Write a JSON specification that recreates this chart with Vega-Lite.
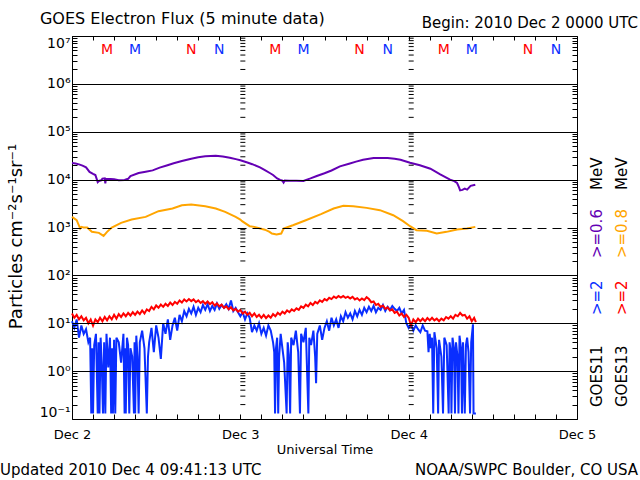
{
  "$schema": "https://vega.github.io/schema/vega-lite/v6.json",
  "width": 505,
  "height": 383,
  "autosize": {"type": "none"},
  "padding": {"left": 72, "top": 36, "right": 63, "bottom": 61},
  "config": {"font": "DejaVu Sans", "view": {"stroke": "black", "strokeWidth": 1}},
  "datasets": {
    "purple": [
      {"t":"2010-12-02T00:00Z","v":22200},{"t":"2010-12-02T00:30Z","v":21800},{"t":"2010-12-02T01:00Z","v":20800},{"t":"2010-12-02T01:30Z","v":19600},{"t":"2010-12-02T02:00Z","v":18000},{"t":"2010-12-02T02:30Z","v":14500},{"t":"2010-12-02T03:00Z","v":13200},{"t":"2010-12-02T03:20Z","v":12500},{"t":"2010-12-02T03:40Z","v":8900},{"t":"2010-12-02T03:50Z","v":9400},{"t":"2010-12-02T04:10Z","v":9700},{"t":"2010-12-02T04:20Z","v":10500},{"t":"2010-12-02T04:40Z","v":10600},{"t":"2010-12-02T04:45Z","v":8300},{"t":"2010-12-02T04:50Z","v":10400},{"t":"2010-12-02T05:30Z","v":10300},{"t":"2010-12-02T06:00Z","v":10200},{"t":"2010-12-02T06:40Z","v":9700},{"t":"2010-12-02T07:30Z","v":9800},{"t":"2010-12-02T08:00Z","v":10400},{"t":"2010-12-02T08:20Z","v":11900},{"t":"2010-12-02T09:30Z","v":13700},{"t":"2010-12-02T10:30Z","v":14600},{"t":"2010-12-02T11:30Z","v":15600},{"t":"2010-12-02T12:30Z","v":17800},{"t":"2010-12-02T13:30Z","v":19800},{"t":"2010-12-02T14:30Z","v":22000},{"t":"2010-12-02T15:40Z","v":24500},{"t":"2010-12-02T17:00Z","v":27300},{"t":"2010-12-02T18:00Z","v":29200},{"t":"2010-12-02T19:00Z","v":30700},{"t":"2010-12-02T20:30Z","v":31700},{"t":"2010-12-02T21:30Z","v":30300},{"t":"2010-12-02T22:30Z","v":28500},{"t":"2010-12-02T23:30Z","v":26500},
      {"t":"2010-12-03T00:00Z","v":25300},{"t":"2010-12-03T01:00Z","v":22800},{"t":"2010-12-03T01:42Z","v":21000},{"t":"2010-12-03T02:48Z","v":18000},{"t":"2010-12-03T03:30Z","v":15800},{"t":"2010-12-03T04:12Z","v":13750},{"t":"2010-12-03T04:40Z","v":12500},{"t":"2010-12-03T05:15Z","v":10600},{"t":"2010-12-03T05:40Z","v":9900},{"t":"2010-12-03T06:00Z","v":9500},{"t":"2010-12-03T06:10Z","v":8700},{"t":"2010-12-03T06:20Z","v":9600},{"t":"2010-12-03T07:00Z","v":9500},{"t":"2010-12-03T08:00Z","v":9500},{"t":"2010-12-03T09:00Z","v":9400},{"t":"2010-12-03T09:30Z","v":10000},{"t":"2010-12-03T10:00Z","v":10600},{"t":"2010-12-03T10:54Z","v":11900},{"t":"2010-12-03T12:00Z","v":13600},{"t":"2010-12-03T13:00Z","v":15500},{"t":"2010-12-03T14:12Z","v":18950},{"t":"2010-12-03T15:30Z","v":21500},{"t":"2010-12-03T16:30Z","v":23800},{"t":"2010-12-03T17:30Z","v":26000},{"t":"2010-12-03T19:00Z","v":28300},{"t":"2010-12-03T21:00Z","v":28300},{"t":"2010-12-03T22:00Z","v":27400},{"t":"2010-12-03T22:50Z","v":26100},
      {"t":"2010-12-04T00:12Z","v":22600},{"t":"2010-12-04T01:36Z","v":19900},{"t":"2010-12-04T03:06Z","v":16900},{"t":"2010-12-04T04:30Z","v":12900},{"t":"2010-12-04T05:54Z","v":10000},{"t":"2010-12-04T06:30Z","v":9300},{"t":"2010-12-04T06:54Z","v":8500},{"t":"2010-12-04T07:10Z","v":7000},{"t":"2010-12-04T07:20Z","v":5980},{"t":"2010-12-04T07:40Z","v":6100},{"t":"2010-12-04T08:00Z","v":6500},{"t":"2010-12-04T08:20Z","v":6180},{"t":"2010-12-04T08:50Z","v":7400},{"t":"2010-12-04T09:30Z","v":7850}
    ],
    "orange": [
      {"t":"2010-12-02T00:00Z","v":1667},{"t":"2010-12-02T00:40Z","v":1420},{"t":"2010-12-02T01:10Z","v":952},{"t":"2010-12-02T01:20Z","v":1030},{"t":"2010-12-02T01:40Z","v":1000},{"t":"2010-12-02T02:10Z","v":1000},{"t":"2010-12-02T02:50Z","v":811},{"t":"2010-12-02T03:50Z","v":773},{"t":"2010-12-02T04:30Z","v":669},{"t":"2010-12-02T05:00Z","v":811},{"t":"2010-12-02T05:40Z","v":1000},{"t":"2010-12-02T07:00Z","v":1250},{"t":"2010-12-02T08:30Z","v":1467},{"t":"2010-12-02T10:30Z","v":1667},{"t":"2010-12-02T12:20Z","v":2190},{"t":"2010-12-02T14:20Z","v":2490},{"t":"2010-12-02T15:40Z","v":2920},{"t":"2010-12-02T17:00Z","v":3020},{"t":"2010-12-02T19:00Z","v":2785},{"t":"2010-12-02T20:30Z","v":2490},{"t":"2010-12-02T21:50Z","v":2120},{"t":"2010-12-02T23:20Z","v":1667},
      {"t":"2010-12-03T00:00Z","v":1467},{"t":"2010-12-03T00:15Z","v":1355},{"t":"2010-12-03T01:20Z","v":1065},{"t":"2010-12-03T02:00Z","v":1030},{"t":"2010-12-03T02:50Z","v":952},{"t":"2010-12-03T03:30Z","v":900},{"t":"2010-12-03T04:10Z","v":811},{"t":"2010-12-03T04:30Z","v":748},{"t":"2010-12-03T05:10Z","v":713},{"t":"2010-12-03T05:50Z","v":748},{"t":"2010-12-03T06:10Z","v":952},{"t":"2010-12-03T07:30Z","v":1117},{"t":"2010-12-03T09:20Z","v":1420},{"t":"2010-12-03T11:30Z","v":1900},{"t":"2010-12-03T13:18Z","v":2490},{"t":"2010-12-03T14:42Z","v":2830},{"t":"2010-12-03T16:06Z","v":2785},{"t":"2010-12-03T18:00Z","v":2570},{"t":"2010-12-03T19:54Z","v":2300},{"t":"2010-12-03T21:48Z","v":1805},{"t":"2010-12-03T23:12Z","v":1355},
      {"t":"2010-12-04T00:12Z","v":1065},{"t":"2010-12-04T01:06Z","v":878},{"t":"2010-12-04T02:36Z","v":857},{"t":"2010-12-04T04:00Z","v":748},{"t":"2010-12-04T05:24Z","v":811},{"t":"2010-12-04T06:54Z","v":907},{"t":"2010-12-04T08:18Z","v":952},{"t":"2010-12-04T09:30Z","v":1030}
    ],
    "blue": [
      {"t":"2010-12-02T00:00Z","v":11},{"t":"2010-12-02T00:20Z","v":8},{"t":"2010-12-02T00:40Z","v":12},{"t":"2010-12-02T01:00Z","v":5},{"t":"2010-12-02T01:20Z","v":9},{"t":"2010-12-02T01:40Z","v":6},{"t":"2010-12-02T02:00Z","v":7.5},{"t":"2010-12-02T02:20Z","v":4},{"t":"2010-12-02T02:35Z","v":5},{"t":"2010-12-02T02:45Z","v":0.13},{"t":"2010-12-02T02:52Z","v":3},{"t":"2010-12-02T03:00Z","v":0.13},{"t":"2010-12-02T03:10Z","v":3.5},{"t":"2010-12-02T03:25Z","v":6},{"t":"2010-12-02T03:40Z","v":0.13},{"t":"2010-12-02T03:47Z","v":4},{"t":"2010-12-02T03:55Z","v":0.13},{"t":"2010-12-02T04:05Z","v":5},{"t":"2010-12-02T04:15Z","v":1.3},{"t":"2010-12-02T04:25Z","v":0.13},{"t":"2010-12-02T04:35Z","v":4},{"t":"2010-12-02T04:45Z","v":0.13},{"t":"2010-12-02T04:55Z","v":6},{"t":"2010-12-02T05:10Z","v":1.2},{"t":"2010-12-02T05:25Z","v":5},{"t":"2010-12-02T05:35Z","v":0.13},{"t":"2010-12-02T05:42Z","v":3},{"t":"2010-12-02T05:50Z","v":0.13},{"t":"2010-12-02T06:00Z","v":4.5},{"t":"2010-12-02T06:10Z","v":0.13},{"t":"2010-12-02T06:20Z","v":5},{"t":"2010-12-02T06:40Z","v":4},{"t":"2010-12-02T07:00Z","v":1.5},{"t":"2010-12-02T07:20Z","v":6},{"t":"2010-12-02T07:30Z","v":0.13},{"t":"2010-12-02T07:35Z","v":3},{"t":"2010-12-02T07:40Z","v":0.13},{"t":"2010-12-02T07:50Z","v":5},{"t":"2010-12-02T08:00Z","v":3.5},{"t":"2010-12-02T08:10Z","v":0.13},{"t":"2010-12-02T08:20Z","v":3},{"t":"2010-12-02T08:35Z","v":2},{"t":"2010-12-02T08:50Z","v":0.13},{"t":"2010-12-02T08:55Z","v":4},{"t":"2010-12-02T09:00Z","v":0.13},{"t":"2010-12-02T09:10Z","v":5.5},{"t":"2010-12-02T09:20Z","v":2},{"t":"2010-12-02T09:30Z","v":0.13},{"t":"2010-12-02T09:40Z","v":4},{"t":"2010-12-02T10:00Z","v":7},{"t":"2010-12-02T10:20Z","v":3},{"t":"2010-12-02T10:40Z","v":0.13},{"t":"2010-12-02T10:50Z","v":2},{"t":"2010-12-02T11:00Z","v":4},{"t":"2010-12-02T11:20Z","v":8},{"t":"2010-12-02T11:40Z","v":2.5},{"t":"2010-12-02T12:00Z","v":9},{"t":"2010-12-02T12:20Z","v":5},{"t":"2010-12-02T12:40Z","v":1.8},{"t":"2010-12-02T13:00Z","v":10},{"t":"2010-12-02T13:20Z","v":6},{"t":"2010-12-02T13:40Z","v":12},{"t":"2010-12-02T14:00Z","v":4.5},{"t":"2010-12-02T14:20Z","v":9},{"t":"2010-12-02T14:40Z","v":13},{"t":"2010-12-02T15:00Z","v":7},{"t":"2010-12-02T15:20Z","v":15},{"t":"2010-12-02T15:40Z","v":11},{"t":"2010-12-02T16:00Z","v":18},{"t":"2010-12-02T16:20Z","v":14},{"t":"2010-12-02T16:40Z","v":20},{"t":"2010-12-02T17:00Z","v":16},{"t":"2010-12-02T17:20Z","v":22},{"t":"2010-12-02T17:40Z","v":15},{"t":"2010-12-02T18:00Z","v":21},{"t":"2010-12-02T18:20Z","v":17},{"t":"2010-12-02T18:40Z","v":24},{"t":"2010-12-02T19:00Z","v":19},{"t":"2010-12-02T19:20Z","v":25},{"t":"2010-12-02T19:40Z","v":18},{"t":"2010-12-02T20:00Z","v":23},{"t":"2010-12-02T20:20Z","v":19},{"t":"2010-12-02T20:40Z","v":26},{"t":"2010-12-02T21:00Z","v":20},{"t":"2010-12-02T21:20Z","v":24},{"t":"2010-12-02T21:40Z","v":21},{"t":"2010-12-02T22:00Z","v":25},{"t":"2010-12-02T22:20Z","v":20},{"t":"2010-12-02T22:40Z","v":30},{"t":"2010-12-02T23:00Z","v":18},{"t":"2010-12-02T23:20Z","v":21},{"t":"2010-12-02T23:40Z","v":17},
      {"t":"2010-12-03T00:00Z","v":14},{"t":"2010-12-03T00:20Z","v":17},{"t":"2010-12-03T00:40Z","v":12},{"t":"2010-12-03T01:00Z","v":16},{"t":"2010-12-03T01:20Z","v":13},{"t":"2010-12-03T01:40Z","v":6.5},{"t":"2010-12-03T02:00Z","v":9},{"t":"2010-12-03T02:20Z","v":7},{"t":"2010-12-03T02:40Z","v":10},{"t":"2010-12-03T03:00Z","v":6},{"t":"2010-12-03T03:20Z","v":8},{"t":"2010-12-03T03:40Z","v":5.5},{"t":"2010-12-03T04:00Z","v":9},{"t":"2010-12-03T04:20Z","v":7},{"t":"2010-12-03T04:40Z","v":4},{"t":"2010-12-03T04:50Z","v":2.5},{"t":"2010-12-03T04:57Z","v":0.13},{"t":"2010-12-03T05:05Z","v":3},{"t":"2010-12-03T05:15Z","v":5},{"t":"2010-12-03T05:24Z","v":0.13},{"t":"2010-12-03T05:32Z","v":2},{"t":"2010-12-03T05:45Z","v":6},{"t":"2010-12-03T06:00Z","v":3},{"t":"2010-12-03T06:15Z","v":1.5},{"t":"2010-12-03T06:36Z","v":0.13},{"t":"2010-12-03T06:45Z","v":4},{"t":"2010-12-03T06:55Z","v":2.2},{"t":"2010-12-03T07:06Z","v":0.13},{"t":"2010-12-03T07:15Z","v":5},{"t":"2010-12-03T07:35Z","v":3.5},{"t":"2010-12-03T07:55Z","v":7},{"t":"2010-12-03T08:15Z","v":2.5},{"t":"2010-12-03T08:30Z","v":0.13},{"t":"2010-12-03T08:40Z","v":6},{"t":"2010-12-03T09:00Z","v":4},{"t":"2010-12-03T09:20Z","v":8},{"t":"2010-12-03T09:42Z","v":0.13},{"t":"2010-12-03T09:50Z","v":5},{"t":"2010-12-03T10:05Z","v":3.5},{"t":"2010-12-03T10:25Z","v":7},{"t":"2010-12-03T10:40Z","v":2},{"t":"2010-12-03T10:48Z","v":0.56},{"t":"2010-12-03T10:58Z","v":6},{"t":"2010-12-03T11:20Z","v":9},{"t":"2010-12-03T11:40Z","v":4.5},{"t":"2010-12-03T12:00Z","v":8},{"t":"2010-12-03T12:20Z","v":11},{"t":"2010-12-03T12:40Z","v":7},{"t":"2010-12-03T13:00Z","v":13},{"t":"2010-12-03T13:20Z","v":9},{"t":"2010-12-03T13:40Z","v":12},{"t":"2010-12-03T14:00Z","v":8},{"t":"2010-12-03T14:20Z","v":14},{"t":"2010-12-03T14:40Z","v":11},{"t":"2010-12-03T15:00Z","v":17},{"t":"2010-12-03T15:20Z","v":13},{"t":"2010-12-03T15:40Z","v":16},{"t":"2010-12-03T16:00Z","v":12},{"t":"2010-12-03T16:20Z","v":18},{"t":"2010-12-03T16:40Z","v":14},{"t":"2010-12-03T17:00Z","v":19},{"t":"2010-12-03T17:20Z","v":15},{"t":"2010-12-03T17:40Z","v":21},{"t":"2010-12-03T18:00Z","v":17},{"t":"2010-12-03T18:20Z","v":22},{"t":"2010-12-03T18:40Z","v":18},{"t":"2010-12-03T19:00Z","v":23},{"t":"2010-12-03T19:20Z","v":17},{"t":"2010-12-03T19:40Z","v":21},{"t":"2010-12-03T20:00Z","v":19},{"t":"2010-12-03T20:20Z","v":24},{"t":"2010-12-03T20:40Z","v":18},{"t":"2010-12-03T21:00Z","v":22},{"t":"2010-12-03T21:20Z","v":19},{"t":"2010-12-03T21:40Z","v":23},{"t":"2010-12-03T22:00Z","v":20},{"t":"2010-12-03T22:20Z","v":18},{"t":"2010-12-03T22:40Z","v":21},{"t":"2010-12-03T23:00Z","v":16},{"t":"2010-12-03T23:20Z","v":19},{"t":"2010-12-03T23:40Z","v":10},
      {"t":"2010-12-04T00:00Z","v":8},{"t":"2010-12-04T00:20Z","v":9.5},{"t":"2010-12-04T00:40Z","v":7},{"t":"2010-12-04T01:00Z","v":9},{"t":"2010-12-04T01:20Z","v":7.5},{"t":"2010-12-04T01:40Z","v":6.5},{"t":"2010-12-04T02:00Z","v":9},{"t":"2010-12-04T02:20Z","v":7},{"t":"2010-12-04T02:40Z","v":6.8},{"t":"2010-12-04T02:50Z","v":2.5},{"t":"2010-12-04T03:00Z","v":6},{"t":"2010-12-04T03:10Z","v":3},{"t":"2010-12-04T03:20Z","v":5},{"t":"2010-12-04T03:30Z","v":0.13},{"t":"2010-12-04T03:40Z","v":6.5},{"t":"2010-12-04T04:00Z","v":3},{"t":"2010-12-04T04:12Z","v":0.13},{"t":"2010-12-04T04:20Z","v":4.5},{"t":"2010-12-04T04:40Z","v":2},{"t":"2010-12-04T04:54Z","v":0.13},{"t":"2010-12-04T05:05Z","v":5},{"t":"2010-12-04T05:25Z","v":3.5},{"t":"2010-12-04T05:42Z","v":0.13},{"t":"2010-12-04T05:50Z","v":4},{"t":"2010-12-04T06:00Z","v":2.5},{"t":"2010-12-04T06:06Z","v":0.13},{"t":"2010-12-04T06:15Z","v":5},{"t":"2010-12-04T06:28Z","v":3},{"t":"2010-12-04T06:36Z","v":0.13},{"t":"2010-12-04T06:45Z","v":4},{"t":"2010-12-04T06:58Z","v":2},{"t":"2010-12-04T07:06Z","v":0.13},{"t":"2010-12-04T07:15Z","v":5.5},{"t":"2010-12-04T07:28Z","v":3},{"t":"2010-12-04T07:36Z","v":0.13},{"t":"2010-12-04T07:45Z","v":4},{"t":"2010-12-04T08:00Z","v":0.13},{"t":"2010-12-04T08:10Z","v":3.5},{"t":"2010-12-04T08:20Z","v":5},{"t":"2010-12-04T08:32Z","v":2.5},{"t":"2010-12-04T08:45Z","v":0.13},{"t":"2010-12-04T08:55Z","v":4},{"t":"2010-12-04T09:10Z","v":9.5},{"t":"2010-12-04T09:15Z","v":0.13},{"t":"2010-12-04T09:35Z","v":0.13}
    ],
    "red": [
      {"t":"2010-12-02T00:00Z","v":16},{"t":"2010-12-02T00:20Z","v":13},{"t":"2010-12-02T00:40Z","v":15},{"t":"2010-12-02T01:00Z","v":12},{"t":"2010-12-02T01:20Z","v":14},{"t":"2010-12-02T01:40Z","v":11.5},{"t":"2010-12-02T02:00Z","v":13},{"t":"2010-12-02T02:20Z","v":10},{"t":"2010-12-02T02:40Z","v":12},{"t":"2010-12-02T03:00Z","v":8.9},{"t":"2010-12-02T03:20Z","v":12},{"t":"2010-12-02T03:40Z","v":10.5},{"t":"2010-12-02T04:00Z","v":13},{"t":"2010-12-02T04:20Z","v":11},{"t":"2010-12-02T04:40Z","v":13.5},{"t":"2010-12-02T05:00Z","v":11.5},{"t":"2010-12-02T05:20Z","v":14},{"t":"2010-12-02T05:40Z","v":12},{"t":"2010-12-02T06:00Z","v":15},{"t":"2010-12-02T06:20Z","v":12.5},{"t":"2010-12-02T06:40Z","v":15.5},{"t":"2010-12-02T07:00Z","v":13.5},{"t":"2010-12-02T07:20Z","v":16},{"t":"2010-12-02T07:40Z","v":14},{"t":"2010-12-02T08:00Z","v":16.5},{"t":"2010-12-02T08:20Z","v":14.5},{"t":"2010-12-02T08:40Z","v":17},{"t":"2010-12-02T09:00Z","v":15},{"t":"2010-12-02T09:20Z","v":17.5},{"t":"2010-12-02T09:40Z","v":15.5},{"t":"2010-12-02T10:00Z","v":18.5},{"t":"2010-12-02T10:20Z","v":16},{"t":"2010-12-02T10:40Z","v":19.5},{"t":"2010-12-02T11:00Z","v":18},{"t":"2010-12-02T11:20Z","v":22},{"t":"2010-12-02T11:40Z","v":19.5},{"t":"2010-12-02T12:00Z","v":23.5},{"t":"2010-12-02T12:20Z","v":21},{"t":"2010-12-02T12:40Z","v":24.5},{"t":"2010-12-02T13:00Z","v":22},{"t":"2010-12-02T13:20Z","v":25.5},{"t":"2010-12-02T13:40Z","v":23},{"t":"2010-12-02T14:00Z","v":27},{"t":"2010-12-02T14:20Z","v":24},{"t":"2010-12-02T14:40Z","v":28},{"t":"2010-12-02T15:00Z","v":25.5},{"t":"2010-12-02T15:20Z","v":30},{"t":"2010-12-02T15:40Z","v":27},{"t":"2010-12-02T16:00Z","v":31.5},{"t":"2010-12-02T16:20Z","v":28.5},{"t":"2010-12-02T16:40Z","v":32},{"t":"2010-12-02T17:00Z","v":29},{"t":"2010-12-02T17:20Z","v":31.5},{"t":"2010-12-02T17:40Z","v":27.5},{"t":"2010-12-02T18:00Z","v":30},{"t":"2010-12-02T18:20Z","v":26.5},{"t":"2010-12-02T18:40Z","v":29},{"t":"2010-12-02T19:00Z","v":25.5},{"t":"2010-12-02T19:20Z","v":28.5},{"t":"2010-12-02T19:40Z","v":25},{"t":"2010-12-02T20:00Z","v":27.5},{"t":"2010-12-02T20:20Z","v":23.5},{"t":"2010-12-02T20:40Z","v":26},{"t":"2010-12-02T21:00Z","v":22.5},{"t":"2010-12-02T21:20Z","v":24.5},{"t":"2010-12-02T21:40Z","v":21},{"t":"2010-12-02T22:00Z","v":22.5},{"t":"2010-12-02T22:20Z","v":19.5},{"t":"2010-12-02T22:40Z","v":21.5},{"t":"2010-12-02T23:00Z","v":18.5},{"t":"2010-12-02T23:20Z","v":20},{"t":"2010-12-02T23:40Z","v":17.5},
      {"t":"2010-12-03T00:00Z","v":19},{"t":"2010-12-03T00:20Z","v":16},{"t":"2010-12-03T00:40Z","v":17.5},{"t":"2010-12-03T01:00Z","v":15},{"t":"2010-12-03T01:20Z","v":16.5},{"t":"2010-12-03T01:40Z","v":14},{"t":"2010-12-03T02:00Z","v":16},{"t":"2010-12-03T02:20Z","v":13.5},{"t":"2010-12-03T02:40Z","v":15},{"t":"2010-12-03T03:00Z","v":13},{"t":"2010-12-03T03:20Z","v":15},{"t":"2010-12-03T03:40Z","v":12.8},{"t":"2010-12-03T04:00Z","v":14.5},{"t":"2010-12-03T04:20Z","v":13},{"t":"2010-12-03T04:40Z","v":15.5},{"t":"2010-12-03T05:00Z","v":14},{"t":"2010-12-03T05:20Z","v":16.5},{"t":"2010-12-03T05:40Z","v":15},{"t":"2010-12-03T06:00Z","v":17.5},{"t":"2010-12-03T06:20Z","v":16},{"t":"2010-12-03T06:40Z","v":18.5},{"t":"2010-12-03T07:00Z","v":17},{"t":"2010-12-03T07:20Z","v":19.5},{"t":"2010-12-03T07:40Z","v":18},{"t":"2010-12-03T08:00Z","v":20.5},{"t":"2010-12-03T08:20Z","v":19},{"t":"2010-12-03T08:40Z","v":22.5},{"t":"2010-12-03T09:00Z","v":21},{"t":"2010-12-03T09:20Z","v":24.5},{"t":"2010-12-03T09:40Z","v":22.5},{"t":"2010-12-03T10:00Z","v":26.5},{"t":"2010-12-03T10:20Z","v":24},{"t":"2010-12-03T10:40Z","v":28},{"t":"2010-12-03T11:00Z","v":26},{"t":"2010-12-03T11:20Z","v":30},{"t":"2010-12-03T11:40Z","v":28},{"t":"2010-12-03T12:00Z","v":32},{"t":"2010-12-03T12:20Z","v":30},{"t":"2010-12-03T12:40Z","v":34},{"t":"2010-12-03T13:00Z","v":32},{"t":"2010-12-03T13:20Z","v":36},{"t":"2010-12-03T13:40Z","v":33.5},{"t":"2010-12-03T14:00Z","v":37},{"t":"2010-12-03T14:20Z","v":34.5},{"t":"2010-12-03T14:40Z","v":37},{"t":"2010-12-03T15:00Z","v":34},{"t":"2010-12-03T15:20Z","v":36},{"t":"2010-12-03T15:40Z","v":33},{"t":"2010-12-03T16:00Z","v":35.5},{"t":"2010-12-03T16:20Z","v":31.5},{"t":"2010-12-03T16:40Z","v":33.5},{"t":"2010-12-03T17:00Z","v":30},{"t":"2010-12-03T17:20Z","v":33},{"t":"2010-12-03T17:40Z","v":30.5},{"t":"2010-12-03T18:00Z","v":35},{"t":"2010-12-03T18:20Z","v":32},{"t":"2010-12-03T18:40Z","v":27.5},{"t":"2010-12-03T19:00Z","v":28.5},{"t":"2010-12-03T19:20Z","v":24},{"t":"2010-12-03T19:40Z","v":25.5},{"t":"2010-12-03T20:00Z","v":22},{"t":"2010-12-03T20:20Z","v":23.5},{"t":"2010-12-03T20:40Z","v":20},{"t":"2010-12-03T21:00Z","v":21.5},{"t":"2010-12-03T21:20Z","v":18.5},{"t":"2010-12-03T21:40Z","v":19.5},{"t":"2010-12-03T22:00Z","v":16.5},{"t":"2010-12-03T22:20Z","v":17.5},{"t":"2010-12-03T22:40Z","v":14.5},{"t":"2010-12-03T23:00Z","v":16},{"t":"2010-12-03T23:20Z","v":13.5},{"t":"2010-12-03T23:40Z","v":15},
      {"t":"2010-12-04T00:00Z","v":13},{"t":"2010-12-04T00:20Z","v":9},{"t":"2010-12-04T00:40Z","v":12},{"t":"2010-12-04T01:00Z","v":10.5},{"t":"2010-12-04T01:20Z","v":12.5},{"t":"2010-12-04T01:40Z","v":11},{"t":"2010-12-04T02:00Z","v":12.5},{"t":"2010-12-04T02:20Z","v":11},{"t":"2010-12-04T02:40Z","v":12.8},{"t":"2010-12-04T03:00Z","v":11.5},{"t":"2010-12-04T03:20Z","v":13},{"t":"2010-12-04T03:40Z","v":11.5},{"t":"2010-12-04T04:00Z","v":12.5},{"t":"2010-12-04T04:20Z","v":11},{"t":"2010-12-04T04:40Z","v":12.5},{"t":"2010-12-04T05:00Z","v":11.5},{"t":"2010-12-04T05:20Z","v":13.5},{"t":"2010-12-04T05:40Z","v":12.5},{"t":"2010-12-04T06:00Z","v":14},{"t":"2010-12-04T06:20Z","v":12.5},{"t":"2010-12-04T06:40Z","v":15},{"t":"2010-12-04T07:00Z","v":14},{"t":"2010-12-04T07:20Z","v":16.5},{"t":"2010-12-04T07:40Z","v":14.5},{"t":"2010-12-04T08:00Z","v":15},{"t":"2010-12-04T08:20Z","v":12.5},{"t":"2010-12-04T08:40Z","v":14},{"t":"2010-12-04T09:00Z","v":11},{"t":"2010-12-04T09:20Z","v":13},{"t":"2010-12-04T09:35Z","v":10.5}
    ],
    "minor": [
      {"v":0.2},{"v":0.3},{"v":0.4},{"v":0.5},{"v":0.6},{"v":0.7},{"v":0.8},{"v":0.9},
      {"v":2},{"v":3},{"v":4},{"v":5},{"v":6},{"v":7},{"v":8},{"v":9},
      {"v":20},{"v":30},{"v":40},{"v":50},{"v":60},{"v":70},{"v":80},{"v":90},
      {"v":200},{"v":300},{"v":400},{"v":500},{"v":600},{"v":700},{"v":800},{"v":900},
      {"v":2000},{"v":3000},{"v":4000},{"v":5000},{"v":6000},{"v":7000},{"v":8000},{"v":9000},
      {"v":20000},{"v":30000},{"v":40000},{"v":50000},{"v":60000},{"v":70000},{"v":80000},{"v":90000},
      {"v":200000},{"v":300000},{"v":400000},{"v":500000},{"v":600000},{"v":700000},{"v":800000},{"v":900000},
      {"v":2000000},{"v":3000000},{"v":4000000},{"v":5000000},{"v":6000000},{"v":7000000},{"v":8000000},{"v":9000000}
    ],
    "passes": [
      {"t":"2010-12-02T05:00Z","text":"M","grp":"r"},{"t":"2010-12-02T09:00Z","text":"M","grp":"b"},{"t":"2010-12-02T17:00Z","text":"N","grp":"r"},{"t":"2010-12-02T21:00Z","text":"N","grp":"b"},
      {"t":"2010-12-03T05:00Z","text":"M","grp":"r"},{"t":"2010-12-03T09:00Z","text":"M","grp":"b"},{"t":"2010-12-03T17:00Z","text":"N","grp":"r"},{"t":"2010-12-03T21:00Z","text":"N","grp":"b"},
      {"t":"2010-12-04T05:00Z","text":"M","grp":"r"},{"t":"2010-12-04T09:00Z","text":"M","grp":"b"},{"t":"2010-12-04T17:00Z","text":"N","grp":"r"},{"t":"2010-12-04T21:00Z","text":"N","grp":"b"}
    ],
    "keys": [
      {"t":"2010-12-05T02:51Z","v":230,"text":">=0.6","grp":"p"},
      {"t":"2010-12-05T02:51Z","v":6060,"text":"MeV","grp":"k"},
      {"t":"2010-12-05T02:51Z","v":14.8,"text":">=2","grp":"b"},
      {"t":"2010-12-05T02:51Z","v":0.178,"text":"GOES11","grp":"k"},
      {"t":"2010-12-05T06:25Z","v":230,"text":">=0.8","grp":"o"},
      {"t":"2010-12-05T06:25Z","v":6060,"text":"MeV","grp":"k"},
      {"t":"2010-12-05T06:25Z","v":14.8,"text":">=2","grp":"r"},
      {"t":"2010-12-05T06:25Z","v":0.178,"text":"GOES13","grp":"k"}
    ],
    "notes": [
      {"t":"2010-12-01T19:26Z","v":17800000,"text":"GOES Electron Flux (5 minute data)","side":"t"},
      {"t":"2010-12-05T08:42Z","v":14700000,"text":"Begin: 2010 Dec 2 0000 UTC","side":"r"},
      {"t":"2010-12-01T13:44Z","v":0.00677,"text":"Updated 2010 Dec  4 09:41:13 UTC","side":"l"},
      {"t":"2010-12-05T08:42Z","v":0.00677,"text":"NOAA/SWPC Boulder, CO USA","side":"r"}
    ]
  },
  "resolve": {"axis": {"x": "independent", "y": "independent"}},
  "layer": [
    {
      "data": {"name": "purple"},
      "mark": {"type": "line", "color": "#6400B4", "strokeWidth": 2},
      "encoding": {
        "x": {"field": "t", "type": "temporal",
          "scale": {"type": "utc", "domain": [{"year":2010,"month":12,"date":2,"utc":true},{"year":2010,"month":12,"date":5,"utc":true}], "nice": false},
          "axis": {"orient": "bottom",
            "values": [{"year":2010,"month":12,"date":2,"hours":0,"utc":true},{"year":2010,"month":12,"date":2,"hours":3,"utc":true},{"year":2010,"month":12,"date":2,"hours":6,"utc":true},{"year":2010,"month":12,"date":2,"hours":9,"utc":true},{"year":2010,"month":12,"date":2,"hours":12,"utc":true},{"year":2010,"month":12,"date":2,"hours":15,"utc":true},{"year":2010,"month":12,"date":2,"hours":18,"utc":true},{"year":2010,"month":12,"date":2,"hours":21,"utc":true},{"year":2010,"month":12,"date":3,"hours":0,"utc":true},{"year":2010,"month":12,"date":3,"hours":3,"utc":true},{"year":2010,"month":12,"date":3,"hours":6,"utc":true},{"year":2010,"month":12,"date":3,"hours":9,"utc":true},{"year":2010,"month":12,"date":3,"hours":12,"utc":true},{"year":2010,"month":12,"date":3,"hours":15,"utc":true},{"year":2010,"month":12,"date":3,"hours":18,"utc":true},{"year":2010,"month":12,"date":3,"hours":21,"utc":true},{"year":2010,"month":12,"date":4,"hours":0,"utc":true},{"year":2010,"month":12,"date":4,"hours":3,"utc":true},{"year":2010,"month":12,"date":4,"hours":6,"utc":true},{"year":2010,"month":12,"date":4,"hours":9,"utc":true},{"year":2010,"month":12,"date":4,"hours":12,"utc":true},{"year":2010,"month":12,"date":4,"hours":15,"utc":true},{"year":2010,"month":12,"date":4,"hours":18,"utc":true},{"year":2010,"month":12,"date":4,"hours":21,"utc":true},{"year":2010,"month":12,"date":5,"hours":0,"utc":true}],
            "labelExpr": "datum.value % 86400000 == 0 ? 'Dec ' + (2 + round((datum.value - 1291248000000) / 86400000)) : ''",
            "labelFont": "DejaVu Sans", "labelFontSize": 13, "labelColor": "black", "labelPadding": 14, "labelFlush": false,
            "tickSize": -5, "tickColor": "black", "tickWidth": 1, "domain": false, "grid": false,
            "title": "Universal Time", "titleFont": "DejaVu Sans", "titleFontSize": 13, "titleFontWeight": "normal", "titleColor": "black", "titlePadding": 2, "zindex": 1}},
        "y": {"field": "v", "type": "quantitative",
          "scale": {"type": "log", "domain": [0.1, 10000000], "nice": false},
          "axis": {"orient": "left",
            "values": [0.1,0.2,0.3,0.4,0.5,0.6,0.7,0.8,0.9,1,2,3,4,5,6,7,8,9,10,20,30,40,50,60,70,80,90,100,200,300,400,500,600,700,800,900,1000,2000,3000,4000,5000,6000,7000,8000,9000,10000,20000,30000,40000,50000,60000,70000,80000,90000,100000,200000,300000,400000,500000,600000,700000,800000,900000,1000000,2000000,3000000,4000000,5000000,6000000,7000000,8000000,9000000,10000000],
            "labelExpr": "datum.value==0.1?'10⁻¹':datum.value==1?'10⁰':datum.value==10?'10¹':datum.value==100?'10²':datum.value==1000?'10³':datum.value==10000?'10⁴':datum.value==100000?'10⁵':datum.value==1000000?'10⁶':datum.value==10000000?'10⁷':''",
            "labelFont": "DejaVu Sans", "labelFontSize": 14, "labelColor": "black", "labelFlush": true, "labelPadding": 7,
            "tickSize": -5, "tickColor": "black", "tickWidth": 1, "domain": false,
            "grid": true, "gridColor": "black", "gridWidth": 1,
            "gridOpacity": {"condition": {"test": "indexof([1,10,100,1000,10000,100000,1000000], datum.value) >= 0", "value": 1}, "value": 0},
            "gridDash": {"condition": {"test": "datum.value == 1000", "value": [9, 6]}, "value": []},
            "title": "Particles cm⁻²s⁻¹sr⁻¹", "titleFont": "DejaVu Sans", "titleFontSize": 18, "titleFontWeight": "normal", "titleColor": "black", "titlePadding": 14, "titleY": 200, "zindex": 1}}
      }
    },
    {
      "data": {"name": "orange"},
      "mark": {"type": "line", "color": "#FFA500", "strokeWidth": 2},
      "encoding": {
        "x": {"field": "t", "type": "temporal",
          "scale": {"type": "utc", "domain": [{"year":2010,"month":12,"date":2,"utc":true},{"year":2010,"month":12,"date":5,"utc":true}], "nice": false},
          "axis": {"orient": "top",
            "values": [{"year":2010,"month":12,"date":2,"hours":0,"utc":true},{"year":2010,"month":12,"date":2,"hours":3,"utc":true},{"year":2010,"month":12,"date":2,"hours":6,"utc":true},{"year":2010,"month":12,"date":2,"hours":9,"utc":true},{"year":2010,"month":12,"date":2,"hours":12,"utc":true},{"year":2010,"month":12,"date":2,"hours":15,"utc":true},{"year":2010,"month":12,"date":2,"hours":18,"utc":true},{"year":2010,"month":12,"date":2,"hours":21,"utc":true},{"year":2010,"month":12,"date":3,"hours":0,"utc":true},{"year":2010,"month":12,"date":3,"hours":3,"utc":true},{"year":2010,"month":12,"date":3,"hours":6,"utc":true},{"year":2010,"month":12,"date":3,"hours":9,"utc":true},{"year":2010,"month":12,"date":3,"hours":12,"utc":true},{"year":2010,"month":12,"date":3,"hours":15,"utc":true},{"year":2010,"month":12,"date":3,"hours":18,"utc":true},{"year":2010,"month":12,"date":3,"hours":21,"utc":true},{"year":2010,"month":12,"date":4,"hours":0,"utc":true},{"year":2010,"month":12,"date":4,"hours":3,"utc":true},{"year":2010,"month":12,"date":4,"hours":6,"utc":true},{"year":2010,"month":12,"date":4,"hours":9,"utc":true},{"year":2010,"month":12,"date":4,"hours":12,"utc":true},{"year":2010,"month":12,"date":4,"hours":15,"utc":true},{"year":2010,"month":12,"date":4,"hours":18,"utc":true},{"year":2010,"month":12,"date":4,"hours":21,"utc":true},{"year":2010,"month":12,"date":5,"hours":0,"utc":true}],
            "labels": false, "tickSize": -4, "tickColor": "black", "domain": false, "grid": false, "title": null, "zindex": 1}},
        "y": {"field": "v", "type": "quantitative",
          "scale": {"type": "log", "domain": [0.1, 10000000], "nice": false},
          "axis": {"orient": "right",
            "values": [0.1,0.2,0.3,0.4,0.5,0.6,0.7,0.8,0.9,1,2,3,4,5,6,7,8,9,10,20,30,40,50,60,70,80,90,100,200,300,400,500,600,700,800,900,1000,2000,3000,4000,5000,6000,7000,8000,9000,10000,20000,30000,40000,50000,60000,70000,80000,90000,100000,200000,300000,400000,500000,600000,700000,800000,900000,1000000,2000000,3000000,4000000,5000000,6000000,7000000,8000000,9000000,10000000],
            "labels": false, "tickSize": -5, "tickColor": "black", "domain": false, "grid": false, "title": null, "zindex": 1}}
      }
    },
    {
      "data": {"name": "blue"},
      "mark": {"type": "line", "color": "#0A2EFF", "strokeWidth": 2},
      "encoding": {
        "x": {"field": "t", "type": "temporal", "scale": {"type": "utc", "domain": [{"year":2010,"month":12,"date":2,"utc":true},{"year":2010,"month":12,"date":5,"utc":true}], "nice": false}, "axis": null},
        "y": {"field": "v", "type": "quantitative", "scale": {"type": "log", "domain": [0.1, 10000000], "nice": false}, "axis": null}
      }
    },
    {
      "data": {"name": "red"},
      "mark": {"type": "line", "color": "#FF0000", "strokeWidth": 2},
      "encoding": {
        "x": {"field": "t", "type": "temporal", "scale": {"type": "utc", "domain": [{"year":2010,"month":12,"date":2,"utc":true},{"year":2010,"month":12,"date":5,"utc":true}], "nice": false}, "axis": null},
        "y": {"field": "v", "type": "quantitative", "scale": {"type": "log", "domain": [0.1, 10000000], "nice": false}, "axis": null}
      }
    },
    {
      "data": {"name": "minor"},
      "mark": {"type": "rule", "color": "black", "strokeWidth": 1},
      "encoding": {
        "x": {"datum": {"year":2010,"month":12,"date":3,"utc":true}, "type": "temporal", "scale": {"type": "utc", "domain": [{"year":2010,"month":12,"date":2,"utc":true},{"year":2010,"month":12,"date":5,"utc":true}], "nice": false}, "axis": null},
        "x2": {"datum": {"year":2010,"month":12,"date":3,"minutes":43,"utc":true}},
        "y": {"field": "v", "type": "quantitative", "scale": {"type": "log", "domain": [0.1, 10000000], "nice": false}, "axis": null}
      }
    },
    {
      "data": {"name": "minor"},
      "mark": {"type": "rule", "color": "black", "strokeWidth": 1},
      "encoding": {
        "x": {"datum": {"year":2010,"month":12,"date":4,"utc":true}, "type": "temporal", "scale": {"type": "utc", "domain": [{"year":2010,"month":12,"date":2,"utc":true},{"year":2010,"month":12,"date":5,"utc":true}], "nice": false}, "axis": null},
        "x2": {"datum": {"year":2010,"month":12,"date":4,"minutes":43,"utc":true}},
        "y": {"field": "v", "type": "quantitative", "scale": {"type": "log", "domain": [0.1, 10000000], "nice": false}, "axis": null}
      }
    },
    {
      "data": {"name": "passes"},
      "mark": {"type": "text", "font": "DejaVu Sans", "fontSize": 14, "align": "center", "baseline": "middle"},
      "encoding": {
        "x": {"field": "t", "type": "temporal", "scale": {"type": "utc", "domain": [{"year":2010,"month":12,"date":2,"utc":true},{"year":2010,"month":12,"date":5,"utc":true}], "nice": false}, "axis": null},
        "y": {"datum": 5100000, "type": "quantitative", "scale": {"type": "log", "domain": [0.1, 10000000], "nice": false}, "axis": null},
        "text": {"field": "text"},
        "color": {"field": "grp", "type": "nominal", "scale": {"domain": ["k","p","o","b","r"], "range": ["#000000","#6400B4","#FFA500","#0A2EFF","#FF0000"]}, "legend": null}
      }
    },
    {
      "data": {"name": "keys"},
      "mark": {"type": "text", "font": "DejaVu Sans", "fontSize": 15, "align": "left", "baseline": "middle", "angle": 270},
      "encoding": {
        "x": {"field": "t", "type": "temporal", "scale": {"type": "utc", "domain": [{"year":2010,"month":12,"date":2,"utc":true},{"year":2010,"month":12,"date":5,"utc":true}], "nice": false}, "axis": null},
        "y": {"field": "v", "type": "quantitative", "scale": {"type": "log", "domain": [0.1, 10000000], "nice": false}, "axis": null},
        "text": {"field": "text"},
        "color": {"field": "grp", "type": "nominal", "scale": {"domain": ["k","p","o","b","r"], "range": ["#000000","#6400B4","#FFA500","#0A2EFF","#FF0000"]}, "legend": null}
      }
    },
    {
      "data": {"name": "notes"},
      "transform": [{"filter": "datum.side == 't'"}],
      "mark": {"type": "text", "font": "DejaVu Sans", "fontSize": 16, "align": "left", "baseline": "alphabetic", "color": "black"},
      "encoding": {
        "x": {"field": "t", "type": "temporal", "scale": {"type": "utc", "domain": [{"year":2010,"month":12,"date":2,"utc":true},{"year":2010,"month":12,"date":5,"utc":true}], "nice": false}, "axis": null},
        "y": {"field": "v", "type": "quantitative", "scale": {"type": "log", "domain": [0.1, 10000000], "nice": false}, "axis": null},
        "text": {"field": "text"}
      }
    },
    {
      "data": {"name": "notes"},
      "transform": [{"filter": "datum.side == 'l'"}],
      "mark": {"type": "text", "font": "DejaVu Sans", "fontSize": 15, "align": "left", "baseline": "alphabetic", "color": "black"},
      "encoding": {
        "x": {"field": "t", "type": "temporal", "scale": {"type": "utc", "domain": [{"year":2010,"month":12,"date":2,"utc":true},{"year":2010,"month":12,"date":5,"utc":true}], "nice": false}, "axis": null},
        "y": {"field": "v", "type": "quantitative", "scale": {"type": "log", "domain": [0.1, 10000000], "nice": false}, "axis": null},
        "text": {"field": "text"}
      }
    },
    {
      "data": {"name": "notes"},
      "transform": [{"filter": "datum.side == 'r'"}],
      "mark": {"type": "text", "font": "DejaVu Sans", "fontSize": 15, "align": "right", "baseline": "alphabetic", "color": "black"},
      "encoding": {
        "x": {"field": "t", "type": "temporal", "scale": {"type": "utc", "domain": [{"year":2010,"month":12,"date":2,"utc":true},{"year":2010,"month":12,"date":5,"utc":true}], "nice": false}, "axis": null},
        "y": {"field": "v", "type": "quantitative", "scale": {"type": "log", "domain": [0.1, 10000000], "nice": false}, "axis": null},
        "text": {"field": "text"}
      }
    }
  ]
}
